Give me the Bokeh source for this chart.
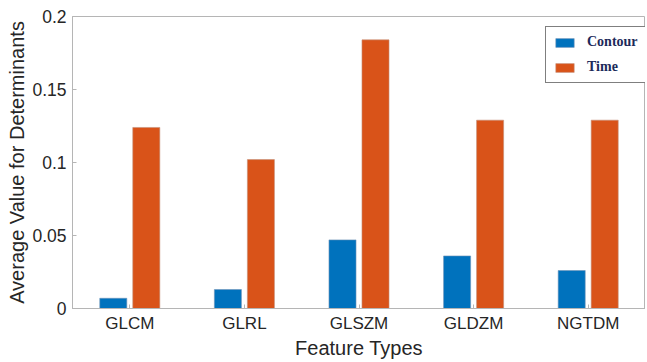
from bokeh.plotting import figure
from bokeh.models import (FactorRange, Range1d, ColumnDataSource, Legend, LegendItem,
                          FixedTicker, CustomJSTickFormatter)
from bokeh.transform import dodge
from bokeh.embed import file_html
from bokeh.resources import INLINE

categories = ["GLCM", "GLRL", "GLSZM", "GLDZM", "NGTDM"]
contour = [0.007, 0.013, 0.047, 0.036, 0.026]
time_vals = [0.124, 0.102, 0.184, 0.129, 0.129]
y_ticks = [0, 0.05, 0.1, 0.15, 0.2]

src = ColumnDataSource(dict(cat=categories, contour=contour, time=time_vals))

TXT = "#262626"
AX = "#b5b5b5"
FONT = "Liberation Sans"

p = figure(x_range=FactorRange(*categories, range_padding=0), y_range=Range1d(0, 0.2),
           width=645, height=361, output_backend="svg", toolbar_location=None,
           min_border_left=72, min_border_right=0, min_border_top=16, min_border_bottom=0)

r1 = p.vbar(x=dodge("cat", -0.144, range=p.x_range), top="contour", width=0.236, source=src,
            fill_color="#0072BD", line_color="#6f93b8", line_width=0.6)
r2 = p.vbar(x=dodge("cat", 0.144, range=p.x_range), top="time", width=0.236, source=src,
            fill_color="#D95319", line_color="#c4907a", line_width=0.6)

p.xgrid.visible = False
p.ygrid.visible = False
p.outline_line_color = AX
p.background_fill_color = "white"

fmt = CustomJSTickFormatter(code="return String(Math.round(tick*100)/100);")

ya = p.yaxis[0]
ya.ticker = FixedTicker(ticks=y_ticks)
ya.formatter = fmt
ya.axis_label = "Average Value for Determinants"
ya.axis_label_text_font = FONT
ya.axis_label_text_font_size = "20px"
ya.axis_label_text_font_style = "normal"
ya.axis_label_text_color = TXT
ya.axis_label_standoff = 1
ya.major_label_text_font = FONT
ya.major_label_text_font_size = "17.5px"
ya.major_label_text_color = TXT
ya.major_label_standoff = 6
ya.major_tick_in = 4
ya.major_tick_out = 0
ya.minor_tick_line_color = None
ya.axis_line_color = AX
ya.major_tick_line_color = AX

xa = p.xaxis[0]
xa.axis_label = "Feature Types"
xa.axis_label_text_font = FONT
xa.axis_label_text_font_size = "20px"
xa.axis_label_text_font_style = "normal"
xa.axis_label_text_color = TXT
xa.axis_label_standoff = 1
xa.major_label_text_font = FONT
xa.major_label_text_font_size = "17px"
xa.major_label_text_color = TXT
xa.major_label_standoff = 5
xa.major_tick_in = 4
xa.major_tick_out = 0
xa.axis_line_color = AX
xa.major_tick_line_color = AX

legend = Legend(items=[LegendItem(label="Contour", renderers=[r1]),
                       LegendItem(label="Time", renderers=[r2])],
                location=(473, 225))
legend.label_text_font = "Liberation Serif"
legend.label_text_font_style = "bold"
legend.label_text_font_size = "14px"
legend.label_text_color = "#1c2a5a"
legend.glyph_width = 23
legend.glyph_height = 11
legend.label_height = 16
legend.spacing = 9
legend.padding = 7
legend.margin = 0
legend.label_standoff = 11
legend.border_line_color = "black"
legend.border_line_width = 1
legend.background_fill_alpha = 1
p.add_layout(legend, "center")

open("out.html", "w").write(file_html(p, INLINE))
